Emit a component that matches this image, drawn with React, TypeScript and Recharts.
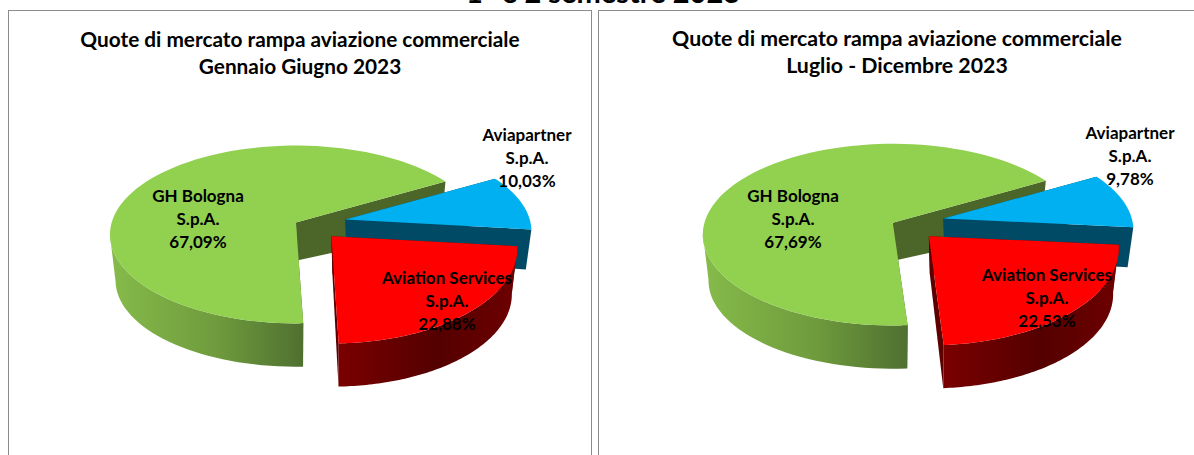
import { PieChart, Pie } from 'recharts';

const names = ['GH Bologna', 'Aviapartner', 'Aviation Services'];
const sharesH1 = [67.09, 10.03, 22.88];
const sharesH2 = [67.69, 9.78, 22.53];
const titlesH1 = ['Quote di mercato rampa aviazione commerciale', 'Gennaio Giugno 2023'];
const titlesH2 = ['Quote di mercato rampa aviazione commerciale', 'Luglio - Dicembre 2023'];

const topColors = ['#92d050', '#00b0f0', '#ff0000'];
const wallColors = ['#4b6628', '#004a66', '#5c0000'];
const rimStops = [
  ['#86bb4a', '#6f9b3d', '#4f7030'],
  ['#004a66', '#004a66', '#004a66'],
  ['#7a0000', '#540000', '#6e0000'],
];

const FONT = 'Lato, sans-serif';
const TILT = 0.478; // ellipse flattening of the pie
const EXPLODE = 24;
const WARP = 7; // perspective stretch at the front of the pie, degrees
const RAD = Math.PI / 180;
// per slice fudge for the perspective of the original
const sliceDepth = [46, 40, 46];
const sliceTilt = [1, 1, 1.07];

// ── 3D exploded slice, drawn from the sector the Pie hands over ──────────
function makeSlice(chartId: string, nudges: number[][]) {
  return function Slice(props: any) {
    const { cx, cy, startAngle, endAngle, outerRadius, index } = props;
    const rx = outerRadius;
    const ry = outerRadius * TILT * sliceTilt[index];
    const depth = sliceDepth[index];
    const warp = (a: number) => a + WARP * Math.sin((a - 270) * RAD);
    const mid = (startAngle + endAngle) / 2;
    const ox = cx + EXPLODE * Math.cos(mid * RAD) + nudges[index][0];
    const oy = cy - EXPLODE * TILT * Math.sin(mid * RAD) + nudges[index][1];

    const top = (a: number) => [ox + rx * Math.cos(a * RAD), oy - ry * Math.sin(a * RAD)];
    const low = (a: number) => [ox + rx * 0.97 * Math.cos(a * RAD), oy + depth - ry * 0.97 * Math.sin(a * RAD)];
    const apexTop = [ox, oy - 12];
    const apexLow = [ox + 1, oy + 26];

    const a0 = warp(startAngle);
    const a1 = warp(endAngle);
    const arc: number[] = [];
    for (let i = 0; i <= 90; i++) arc.push(a0 + ((a1 - a0) * i) / 90);

    // only the part of the rim on the near side of the ellipse shows
    const isNear = (a: number) => Math.sin(a * RAD) <= 0.02;
    const near = arc.filter(isNear);
    const toPath = (pts: number[][]) => 'M' + pts.map(p => p.join(' ')).join('L') + 'Z';
    const gid = `rim-${chartId}-${index}`;
    const stops = rimStops[index];

    return (
      <g>
        <defs>
          <linearGradient id={gid} x1="0" y1="0" x2="1" y2="0">
            <stop offset="0%" stopColor={stops[0]} />
            <stop offset="55%" stopColor={stops[1]} />
            <stop offset="100%" stopColor={stops[2]} />
          </linearGradient>
        </defs>
        <path d={toPath([apexTop, top(a0), low(a0), apexLow])} fill={wallColors[index]} />
        <path d={toPath([apexTop, top(a1), low(a1), apexLow])} fill={wallColors[index]} />
        {near.length > 1 && (
          <path d={toPath([...near.map(top), ...near.slice().reverse().map(low)])} fill={`url(#${gid})`} />
        )}
        <path d={toPath([apexTop, ...arc.map(top)])} fill={topColors[index]} />
      </g>
    );
  };
}

function makeLabel(shares: number[], offsets: number[][]) {
  return function SliceLabel(props: any) {
    const { cx, cy, index } = props;
    const x = cx + offsets[index][0];
    const y = cy + offsets[index][1];
    const value = shares[index].toFixed(2).replace('.', ',') + '%';
    return (
      <text x={x} y={y} textAnchor="middle" fontFamily={FONT} fontWeight={700} fontSize={17} fill="#000">
        <tspan x={x} dy="0">{names[index]}</tspan>
        <tspan x={x} dy="23">S.p.A.</tspan>
        <tspan x={x} dy="23">{value}</tspan>
      </text>
    );
  };
}

function Panel({ id, left, width, titles, titleSize, shares, center, radius, rotate, nudges, labelOffsets }: any) {
  const data = names.map((name, i) => ({ name, value: shares[i] }));
  return (
    <div style={{ position: 'absolute', left, top: 10, width, height: 445, borderTop: '1px solid #8c8c8c', borderLeft: '1px solid #8c8c8c', borderRight: '1px solid #8c8c8c' }}>
      <div style={{ position: 'absolute', left: 0, right: 0, top: 14, textAlign: 'center', fontFamily: FONT, fontWeight: 700, fontSize: titleSize, lineHeight: '27px', color: '#000' }}>
        {titles.map((t: string) => <div key={t}>{t}</div>)}
      </div>
      <PieChart width={width} height={445} margin={{ top: 0, right: 0, bottom: 0, left: 0 }}>
        <Pie
          data={data}
          dataKey="value"
          cx={center[0]}
          cy={center[1]}
          outerRadius={radius}
          startAngle={270 + rotate}
          endAngle={-90 + rotate}
          stroke="none"
          shape={makeSlice(id, nudges)}
          label={makeLabel(shares, labelOffsets)}
          labelLine={false}
          isAnimationActive={false}
        />
      </PieChart>
    </div>
  );
}

export default function App() {
  return (
    <div style={{ position: 'absolute', left: 0, top: 0, width: 1194, height: 455, overflow: 'hidden', background: '#fff' }}>
      <div style={{ position: 'absolute', left: 6, width: 1194, top: -25, textAlign: 'center', fontFamily: FONT, fontWeight: 700, fontSize: 29, color: '#000', lineHeight: '34px' }}>
        1° e 2 semestre 2023
      </div>
      <Panel id="h1" left={8} width={582} titles={titlesH1} titleSize={20.8} shares={sharesH1} center={[310, 229]} radius={186} rotate={2}
        nudges={[[-2, 0], [3, -6], [-4, 0]]}
        labelOffsets={[[-121, -38], [208, -99], [128, 44]]} />
      <Panel id="h2" left={598} width={596} titles={titlesH2} titleSize={21.3} shares={sharesH2} center={[315, 229]} radius={190} rotate={4}
        nudges={[[0, 0], [6, -7], [-2, 0]]}
        labelOffsets={[[-121, -38], [216, -101], [133, 41]]} />
    </div>
  );
}
